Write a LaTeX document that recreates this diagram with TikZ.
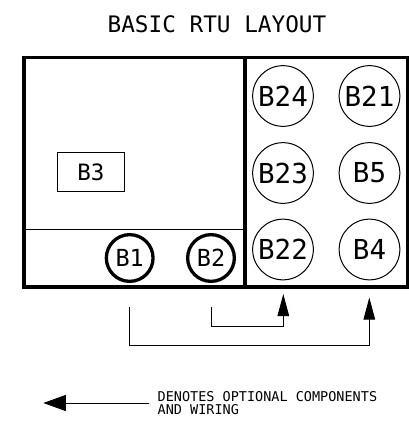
\documentclass[tikz,border=0pt]{standalone}
\usepackage{fontspec}
\setmainfont{DejaVu Sans Mono}
\usetikzlibrary{arrows.meta}
\tikzset{
  x=1pt,y=-1pt,
  frame/.style={draw=black,line width=3.6pt},
  thinbar/.style={draw=black,line width=1.8pt},
  optcirc/.style={circle,draw=black,line width=1pt,minimum size=60.7pt,inner sep=0pt,font=\fontsize{27.5}{27.5}\selectfont},
  stdcirc/.style={circle,draw=black,line width=3.3pt,minimum size=46.7pt,inner sep=0pt,font=\fontsize{23.5}{23.5}\selectfont},
  boxnode/.style={rectangle,draw=black,line width=1pt,minimum width=67.5pt,minimum height=38.5pt,inner sep=0pt,font=\fontsize{22.5}{22.5}\selectfont},
  wire/.style={draw=black,line width=1pt},
  headA/.style={-{Triangle[length=22pt,width=11.5pt]}},
  headB/.style={-{Triangle[length=22.5pt,width=16pt]}},
}
\begin{document}
\begin{tikzpicture}
\useasboundingbox (0,0) rectangle (409,434);
\node[font=\fontsize{22.7}{22.7}\selectfont] (title) at (217,24) {BASIC RTU LAYOUT};
\coordinate (tl) at (24,57.5);
\coordinate (br) at (407.5,287);
\coordinate (vt) at (245,57.5);
\coordinate (vb) at (245,287);
\coordinate (hl) at (24,229.5);
\coordinate (hr) at (245,229.5);
\draw[thinbar] (hl) -- (hr);
\draw[frame] (tl) rectangle (br);
\draw[frame] (vt) -- (vb);
\node[boxnode] (b3) at (91,172) {B3};
\node[optcirc] (b24) at (283,96) {B24};
\node[optcirc] (b21) at (369.5,96) {B21};
\node[optcirc] (b23) at (283,173) {B23};
\node[optcirc] (b5) at (369.5,173) {B5};
\node[optcirc] (b22) at (283,249.5) {B22};
\node[optcirc] (b4) at (369.5,249.5) {B4};
\node[stdcirc] (b1) at (129.7,258) {B1};
\node[stdcirc] (b2) at (211,258) {B2};
\coordinate (s2) at (211,307);
\coordinate (e2) at (283.3,294);
\coordinate (s1) at (129.7,307);
\coordinate (e1) at (369.3,297.5);
\draw[wire,headA] (s2) |- (283.3,326.3) -- (e2);
\draw[wire,headA] (s1) |- (369.3,345.3) -- (e1);
\coordinate (lt) at (149.3,403);
\coordinate (lh) at (43.3,403);
\draw[wire,headB] (lt) -- (lh);
\node[anchor=west,align=left,inner sep=0pt,font=\fontsize{13.5}{13}\selectfont] (legend) at (157.5,403) {DENOTES OPTIONAL COMPONENTS\\AND WIRING};
\end{tikzpicture}
\end{document}
